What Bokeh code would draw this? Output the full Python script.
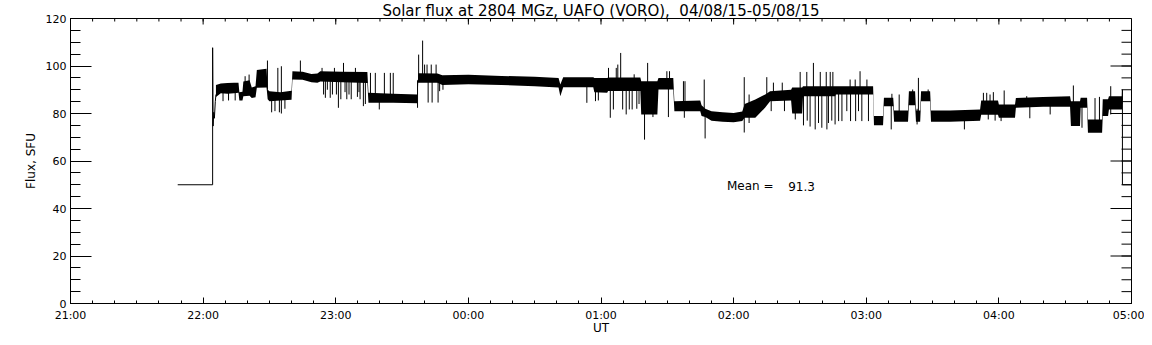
from bokeh.plotting import figure
from bokeh.models import Range1d, FixedTicker, Label
from bokeh.embed import file_html
from bokeh.resources import INLINE

title_text = "Solar flux at 2804 MGz, UAFO (VORO),\u00a0 04/08/15-05/08/15"
x_label = "UT"
y_label = "Flux, SFU"
mean_label = "Mean ="
mean_flux = 91.3

# x positions are minutes after 21:00 UT
x_tick_minutes = [0, 60, 120, 180, 240, 300, 360, 420, 480]
x_tick_labels = ["21:00", "22:00", "23:00", "00:00", "01:00", "02:00", "03:00", "04:00", "05:00"]
x_minor_minutes = list(range(0, 481, 10))
y_ticks = [0, 20, 40, 60, 80, 100, 120]
y_minor = list(range(0, 121, 5))

# dense noisy band of the record: time, lower and upper envelope (SFU)
band_t = [65.8, 68.0, 71.0, 74.0, 76.0, 76.4, 77.8, 78.2, 81.0, 82.0, 83.7, 84.3, 88.7, 89.2, 90.0,
          95.0, 100.0, 100.4, 105.0, 109.0, 111.7, 113.0, 123.0, 134.3, 134.8, 146.0, 156.9, 157.3,
          166.0, 168.2, 180.0, 195.0, 210.0, 220.8, 221.6, 222.9, 236.5, 237.0, 242.8, 243.2, 257.8,
          258.2, 265.5, 266.0, 272.7, 273.2, 284.9, 285.5, 287.2, 290.0, 295.0, 300.0, 303.9, 305.0,
          309.8, 314.3, 316.5, 326.0, 326.5, 331.0, 331.4, 345.9, 346.3, 363.1, 363.5, 367.6, 368.0, 372.2,
          372.6, 378.9, 379.3, 382.1, 382.5, 384.4, 384.8, 388.9, 389.3, 397.9, 411.5, 412.0, 419.6,
          420.0, 427.3, 427.7, 440.0, 452.2, 452.6, 456.7, 457.0, 459.9, 460.3, 466.7, 467.0, 469.4,
          469.8, 475.7]
band_lo = [87.0, 88.5, 88.3, 88.5, 88.7, 85.5, 85.5, 87.3, 87.5, 86.5, 86.8, 90.8, 91.0, 86.0, 85.2,
           85.5, 85.8, 94.3, 94.2, 93.2, 93.0, 93.5, 93.2, 92.8, 84.5, 84.5, 84.3, 93.0,
           92.9, 92.0, 92.3, 92.0, 91.5, 91.0, 87.3, 91.1, 91.1, 89.0, 88.7, 89.5, 89.5,
           79.6, 79.6, 90.1, 90.1, 81.0, 81.0, 79.0, 78.5, 77.0, 76.5, 76.3, 76.8, 78.2,
           78.2, 82.5, 85.2, 85.5, 80.0, 80.0, 87.3, 87.3, 88.0, 88.0, 75.1, 75.1, 83.1, 83.1,
           76.5, 76.5, 83.5, 83.5, 76.5, 76.5, 85.2, 85.2, 76.5, 76.5, 77.0, 79.5, 79.5,
           78.2, 78.2, 82.4, 82.8, 82.8, 74.7, 74.7, 82.4, 82.4, 71.9, 71.9, 79.0, 79.0,
           81.7, 81.7]
band_hi = [92.0, 92.6, 92.8, 93.0, 92.9, 89.0, 89.2, 93.5, 94.0, 91.0, 91.5, 98.3, 98.8, 90.0, 89.4,
           89.0, 89.6, 97.8, 97.6, 96.6, 96.8, 97.8, 97.6, 97.5, 88.7, 88.3, 88.0, 97.0,
           96.8, 96.1, 96.3, 95.8, 95.5, 95.0, 92.2, 95.3, 95.3, 95.0, 95.0, 95.2, 95.2,
           93.6, 93.6, 95.0, 95.0, 85.2, 85.5, 83.5, 82.0, 81.0, 80.5, 80.2, 80.8, 84.0,
           85.9, 88.0, 89.4, 90.0, 91.0, 91.0, 91.5, 91.5, 91.5, 91.5, 78.9, 78.9, 86.6, 86.6,
           81.3, 81.3, 89.4, 89.4, 81.3, 81.3, 89.4, 89.4, 81.3, 81.3, 81.7, 85.5, 85.5,
           83.8, 83.8, 86.5, 87.0, 87.3, 85.2, 85.2, 86.6, 86.6, 77.5, 77.5, 86.0, 86.0,
           87.3, 87.3]

# isolated spikes: time, lower and upper end (SFU)
spike_t = [69.0, 71.5, 74.5, 79.0, 80.8, 89.1, 91.0, 92.5, 93.8, 94.5, 95.4, 97.0, 104.0, 113.8,
           114.5, 115.3, 116.2, 117.5, 118.5, 119.4, 120.3, 121.2, 122.3, 123.5, 124.2, 125.0,
           126.0, 127.0, 128.9, 129.8, 130.5, 131.0, 132.5, 133.4, 135.7, 137.9,
           139.7, 142.0, 144.7, 146.0, 157.0, 157.5, 159.3, 160.2, 161.3, 161.8, 163.2, 163.6,
           165.4, 166.3, 167.0, 168.5, 233.6, 237.5, 238.8,
           243.4, 244.2, 245.6, 246.9, 247.6, 248.9, 249.8, 251.4, 252.8, 254.1, 255.0, 256.2, 257.2,
           259.7, 261.1, 263.5, 269.8, 270.5, 271.0, 277.3, 277.7, 278.0, 286.7, 287.1, 304.8,
           307.0, 315.0, 317.0, 318.0, 322.0, 323.0, 327.9, 330.1, 331.6, 333.1, 333.3, 334.6,
           336.1, 336.9, 338.4, 339.2, 339.9, 341.9, 342.2, 342.9, 343.7, 344.4, 344.9, 345.9,
           347.5, 349.0, 351.2, 352.7, 352.9, 355.0, 355.2, 356.5, 357.2, 358.0, 360.3, 361.0,
           371.3, 371.6, 374.9,
           381.0, 383.0, 383.6, 388.0, 404.4, 413.0, 414.5, 415.2, 416.0, 417.5, 418.3, 421.0,
           422.4, 432.6, 434.0, 443.2, 453.7, 457.6, 463.5, 465.5, 470.6]
spike_lo = [85.2, 85.5, 85.5, 90.0, 90.0, 90.0, 80.5, 81.0, 86.0, 80.5, 80.0, 82.0, 96.0, 95.0,
            88.0, 86.6, 90.0, 86.6, 88.0, 95.0, 88.0, 82.4, 86.0, 95.0, 89.0, 86.0,
            88.0, 86.0, 95.0, 87.0, 89.0, 86.0, 83.1, 84.0, 86.0, 86.0,
            81.7, 86.0, 86.0, 86.0, 82.4, 95.0, 95.0, 95.0, 95.0, 84.6, 95.0, 84.6,
            95.0, 84.6, 89.4, 90.0, 84.5, 85.2, 85.5,
            93.0, 78.2, 81.7, 93.0, 93.0, 93.0, 81.7, 79.6, 81.7, 81.7, 93.0, 82.0, 84.0,
            69.0, 90.0, 78.5, 93.0, 78.5, 93.0, 83.0, 78.2, 83.0, 80.0, 69.5, 72.0,
            76.0, 86.0, 81.0, 88.0, 88.0, 81.0, 77.5, 90.0, 75.0, 90.0, 77.0, 74.5,
            90.0, 73.3, 76.0, 90.0, 74.0, 90.0, 73.3, 76.0, 90.0, 77.0, 90.0, 75.4,
            76.8, 76.8, 81.0, 90.0, 76.8, 90.0, 76.8, 81.0, 90.0, 76.8, 90.0, 76.8,
            73.3, 85.0, 80.0,
            85.0, 75.4, 80.0, 86.0, 73.3, 84.0, 84.0, 77.5, 84.0, 84.0, 77.0, 76.8,
            82.0, 84.0, 78.0, 79.6, 84.0, 74.0, 77.0, 77.0, 79.6]
spike_hi = [90.0, 90.0, 90.0, 95.7, 96.4, 102.3, 87.0, 87.0, 99.2, 87.0, 99.9, 87.0, 102.3, 99.2,
            94.0, 94.0, 94.0, 94.0, 94.0, 99.2, 94.0, 94.0, 94.0, 101.3, 94.0, 94.0,
            94.0, 94.0, 99.2, 94.0, 94.0, 94.0, 94.0, 94.0, 97.1, 97.1,
            86.0, 97.1, 97.1, 97.1, 94.0, 104.8, 110.7, 100.6, 100.6, 94.0, 100.6, 94.0,
            100.6, 94.0, 94.0, 94.0, 92.0, 91.0, 91.0,
            99.2, 90.0, 90.0, 99.2, 100.6, 105.5, 90.0, 90.0, 90.0, 90.0, 96.5, 90.0, 90.0,
            85.0, 101.3, 85.0, 97.8, 92.0, 97.8, 93.6, 84.0, 93.6, 94.3, 80.0, 95.3,
            88.0, 95.3, 86.0, 93.0, 93.0, 86.0, 88.0, 97.5, 88.0, 97.5, 88.0, 88.0,
            101.3, 88.0, 88.0, 97.5, 88.0, 97.5, 88.0, 88.0, 97.5, 88.0, 97.5, 88.0,
            89.0, 89.0, 89.0, 94.3, 89.0, 94.3, 89.0, 89.0, 97.8, 89.0, 94.3, 89.0,
            84.0, 88.3, 88.0,
            90.1, 82.0, 95.0, 90.1, 78.0, 88.7, 88.7, 82.0, 88.0, 89.0, 84.0, 82.0,
            89.7, 87.3, 84.0, 84.0, 91.8, 84.0, 86.5, 87.0, 91.5]

# start of record (fill value 50 before data) and end of record
start_t = [48.5, 64.3, 64.3, 64.5, 64.8, 65.1, 65.5, 65.8]
start_v = [50.0, 50.0, 107.7, 74.7, 80.5, 78.0, 85.0, 88.0]
end_t = [475.7, 475.9, 475.9, 485.0]
end_v = [84.0, 90.0, 50.0, 50.0]

FONT = "DejaVu Sans"
FW, FH = 1061, 285
X0, X1, Y0, Y1 = 0, 480, 0, 120

p = figure(frame_width=FW, frame_height=FH,
           x_range=Range1d(X0, X1), y_range=Range1d(Y0, Y1),
           output_backend="svg", toolbar_location=None,
           min_border_left=70, min_border_right=13, min_border_top=0, min_border_bottom=0,
           title=title_text)
p.title.align = "center"
p.title.text_font = FONT
p.title.text_font_size = "15px"
p.title.text_font_style = "normal"
p.title.standoff = -2
p.title.text_color = "black"

p.grid.visible = False
p.outline_line_color = "black"
p.outline_line_alpha = 1.0
p.background_fill_color = "white"
p.border_fill_color = "white"

xt = FixedTicker(ticks=x_tick_minutes, minor_ticks=x_minor_minutes)
yt = FixedTicker(ticks=y_ticks, minor_ticks=y_minor)

xa = p.xaxis[0]
xa.ticker = xt
xa.major_label_overrides = {t: l for t, l in zip(x_tick_minutes, x_tick_labels)}
xa.major_tick_in = 6
xa.major_tick_out = 0
xa.minor_tick_in = 3
xa.minor_tick_out = 0
xa.major_label_standoff = 5
xa.major_label_text_font = FONT
xa.major_label_text_font_size = "11px"
xa.major_label_text_color = "black"
xa.axis_label = x_label
xa.axis_label_text_font = FONT
xa.axis_label_text_font_size = "12px"
xa.axis_label_text_font_style = "normal"
xa.axis_label_text_color = "black"
xa.axis_label_standoff = -4
xa.axis_line_color = "black"
xa.major_tick_line_color = "black"
xa.minor_tick_line_color = "black"

ya = p.yaxis[0]
ya.ticker = yt
ya.major_tick_in = 21
ya.major_tick_out = 0
ya.minor_tick_in = 10
ya.minor_tick_out = 0
ya.major_label_standoff = 4
ya.major_label_text_font = FONT
ya.major_label_text_font_size = "11px"
ya.major_label_text_color = "black"
ya.axis_label = y_label
ya.axis_label_text_font = FONT
ya.axis_label_text_font_size = "12px"
ya.axis_label_text_font_style = "normal"
ya.axis_label_text_color = "black"
ya.axis_label_standoff = 5
ya.axis_line_color = "black"
ya.major_tick_line_color = "black"
ya.minor_tick_line_color = "black"

# mirrored inward ticks on the right and top edges (IDL style), lengths in pixels
y_per_px = (Y1 - Y0) / FH
x_per_px = (X1 - X0) / FW
p.segment(x0=[X1 - 21 * x_per_px] * len(y_ticks), y0=y_ticks, x1=[X1] * len(y_ticks), y1=y_ticks,
          line_color="black", line_width=1)
p.segment(x0=[X1 - 10 * x_per_px] * len(y_minor), y0=y_minor, x1=[X1] * len(y_minor), y1=y_minor,
          line_color="black", line_width=1)
p.segment(x0=x_tick_minutes, y0=[Y1 - 6 * y_per_px] * len(x_tick_minutes),
          x1=x_tick_minutes, y1=[Y1] * len(x_tick_minutes), line_color="black", line_width=1)
p.segment(x0=x_minor_minutes, y0=[Y1 - 3 * y_per_px] * len(x_minor_minutes),
          x1=x_minor_minutes, y1=[Y1] * len(x_minor_minutes), line_color="black", line_width=1)

p.varea(x=band_t, y1=band_lo, y2=band_hi, color="black")
p.segment(x0=spike_t, y0=spike_lo, x1=spike_t, y1=spike_hi, line_color="black", line_width=1)
p.line(start_t, start_v, line_color="black", line_width=1)
p.line(end_t, end_v, line_color="black", line_width=1)

p.add_layout(Label(x=297, y=49.3, text=mean_label, text_font=FONT,
                   text_font_size="12px", text_color="black", text_baseline="alphabetic"))
p.add_layout(Label(x=324.7, y=49.3, text=f"{mean_flux}", text_font=FONT,
                   text_font_size="12px", text_color="black", text_baseline="alphabetic"))

open("out.html", "w").write(file_html(p, INLINE))
